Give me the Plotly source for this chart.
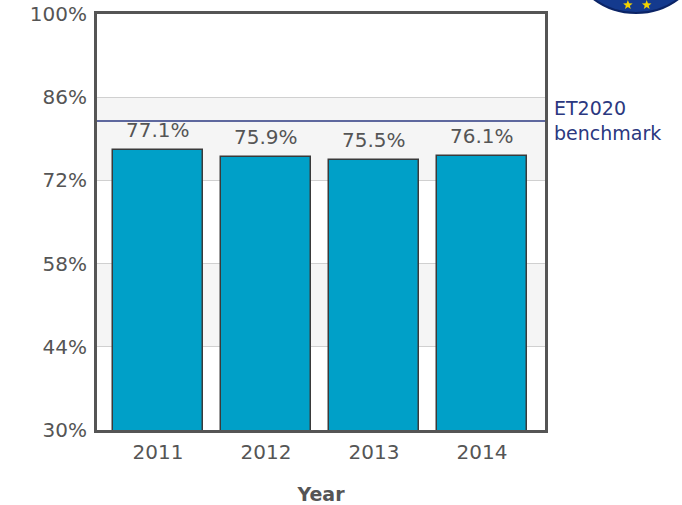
import math
import plotly.graph_objects as go

years = ["2011", "2012", "2013", "2014"]
values = [77.1, 75.9, 75.5, 76.1]
labels = ["77.1%", "75.9%", "75.5%", "76.1%"]
benchmark = 82
y_ticks = [30, 44, 58, 72, 86, 100]
y_tick_labels = ["30%", "44%", "58%", "72%", "86%", "100%"]
benchmark_label = "ET2020<br>benchmark"

FONT = "DejaVu Sans"
GREY = "#555555"
NAVY = "#2b3880"

fig = go.Figure()
fig.add_trace(go.Bar(
    x=list(range(len(years))), y=values,
    marker=dict(color="#00a0c8", line=dict(color="#3a3a3a", width=1.5)),
    width=0.83, hoverinfo="skip",
))

shapes = []
# alternating bands
for i in range(len(y_ticks) - 1):
    if i % 2 == 1:
        shapes.append(dict(type="rect", xref="paper", yref="y", x0=0, x1=1,
                           y0=y_ticks[i], y1=y_ticks[i + 1], fillcolor="#f5f5f5",
                           line=dict(width=0), layer="below"))
# benchmark line
shapes.append(dict(type="line", xref="paper", yref="y", x0=0, x1=1,
                   y0=benchmark, y1=benchmark, line=dict(color=NAVY, width=1.5)))
# logo (partially visible, cut at the top edge)
shapes.append(dict(type="circle", xref="paper", yref="paper",
                   x0=1.0446, x1=1.3616, y0=1.0024, y1=1.3438,
                   fillcolor="#143a8e", line=dict(color="#0b2466", width=2)))


def star_path(r_out, r_in):
    pts = []
    for k in range(10):
        r = r_out if k % 2 == 0 else r_in
        a = math.pi / 2 + k * math.pi / 5
        pts.append((r * math.cos(a), r * math.sin(a)))
    return "M " + " L ".join(f"{x:.2f},{y:.2f}" for x, y in pts) + " Z"


for sx in (1.185, 1.227):
    shapes.append(dict(type="path", xref="paper", yref="paper",
                       xsizemode="pixel", ysizemode="pixel",
                       xanchor=sx, yanchor=1.0216, path=star_path(5, 2.1),
                       fillcolor="#f2d200", line=dict(width=0)))

annotations = [
    dict(text=benchmark_label, xref="paper", yref="y", x=1.015, y=benchmark,
         xanchor="left", yanchor="middle", align="left", showarrow=False,
         font=dict(family=FONT, size=19, color=NAVY)),
]
for i, (v, lab) in enumerate(zip(values, labels)):
    annotations.append(dict(text=lab, x=i, y=v, xref="x", yref="y",
                            xanchor="center", yanchor="bottom", yshift=6,
                            showarrow=False,
                            font=dict(family=FONT, size=20, color=GREY)))

fig.update_layout(
    width=682, height=505,
    margin=dict(l=97, r=137, t=14, b=75, autoexpand=False),
    paper_bgcolor="white", plot_bgcolor="white",
    showlegend=False, bargap=0,
    shapes=shapes,
    font=dict(family=FONT, color=GREY, size=18),
    xaxis=dict(
        range=[-0.565, 3.583], tickmode="array", automargin=False,
        tickvals=list(range(len(years))), ticktext=years,
        showgrid=False, zeroline=False, showline=True, mirror=True,
        linecolor="#555555", linewidth=3, ticks="", ticklabelstandoff=2,
        tickfont=dict(family=FONT, size=20, color=GREY),
        title=dict(text="<b>Year</b>", font=dict(family=FONT, size=19, color=GREY), standoff=25),
    ),
    yaxis=dict(
        range=[30, 100], tickmode="array", tickvals=y_ticks, ticktext=y_tick_labels,
        automargin=False, ticklabelstandoff=3, ticklabeloverflow="allow",
        showgrid=True, gridcolor="#d0d0d0", gridwidth=1, zeroline=False,
        showline=True, mirror=True, linecolor="#555555", linewidth=3, ticks="",
        tickfont=dict(family=FONT, size=20, color=GREY),
    ),
    annotations=annotations,
)

fig.write_html("out.html", config={"displayModeBar": False},
               post_script="document.body.style.margin='0';")
